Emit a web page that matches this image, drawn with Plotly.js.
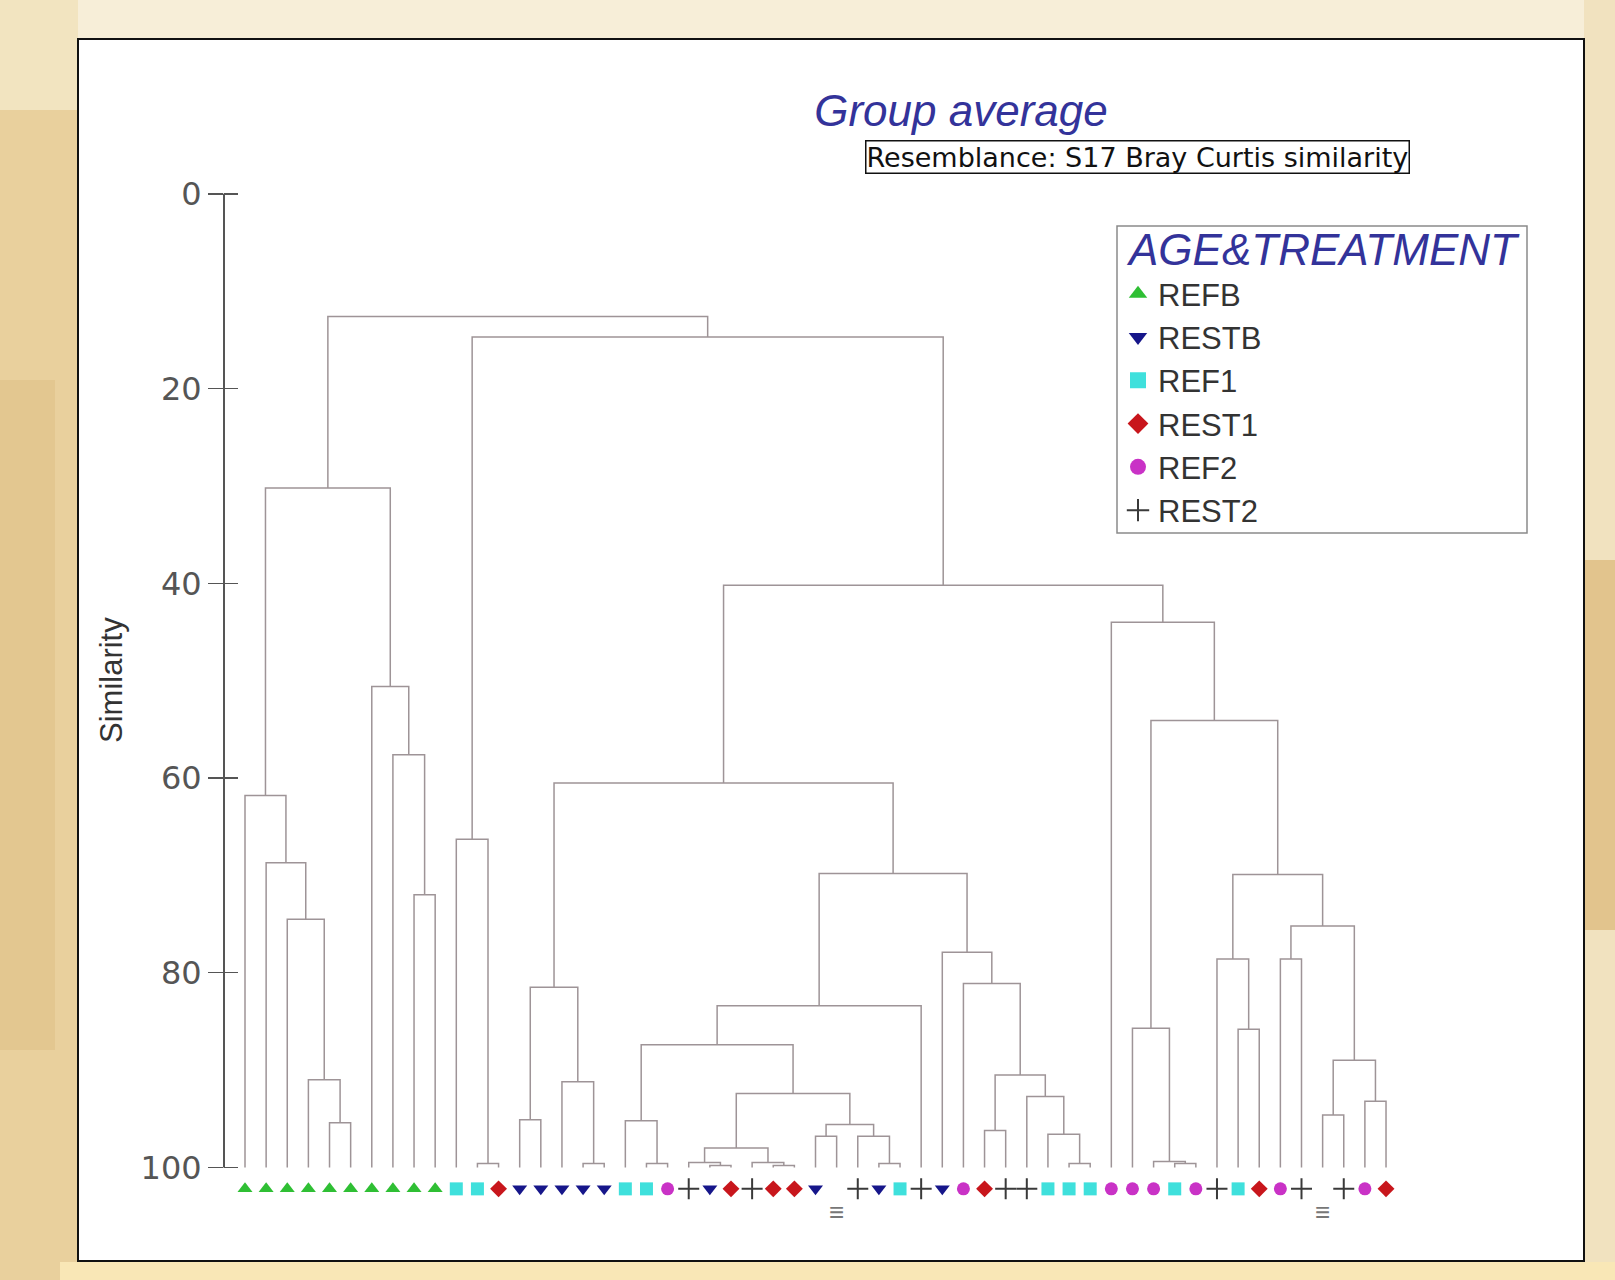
<!DOCTYPE html>
<html><head><meta charset="utf-8">
<script src="https://cdn.plot.ly/plotly-3.0.1.min.js"></script>
<style>html,body{margin:0;padding:0;background:#f6ecd3;}#chart{width:1615px;height:1280px;}</style>
</head><body><div id="chart"></div>
<script>
// ---------------- DATA ----------------
const groupNames = ['REFB', 'RESTB', 'REF1', 'REST1', 'REF2', 'REST2'];
// group of each leaf (left to right); null = leaf without a visible symbol
const leafGroup = [
  'REFB','REFB','REFB','REFB','REFB','REFB','REFB','REFB','REFB','REFB',
  'REF1','REF1','REST1',
  'RESTB','RESTB','RESTB','RESTB','RESTB',
  'REF1','REF1','REF2','REST2','RESTB','REST1','REST2','REST1','REST1','RESTB',null,
  'REST2','RESTB','REF1','REST2','RESTB','REF2','REST1','REST2','REST2',
  'REF1','REF1','REF1','REF2','REF2','REF2','REF1','REF2','REST2','REF1','REST1','REF2',
  'REST2',null,'REST2','REF2','REST1'
];
// small unreadable labels under the leaves without a symbol
const hiddenLeafIdx = [28, 51];
const hiddenLeafText = ['≡', '≡'];
// merges: ids < 55 are leaves, id 55+k is merge k
const mergeA = [4,3,2,1,0,8,7,6,59,11,10,13,16,15,66,19,18,22,21,25,24,73,27,30,29,77,76,71,82,35,39,38,37,84,34,33,83,69,44,43,42,47,46,49,51,53,99,98,97,95,41,92,65,63];
const mergeB = [5,55,56,57,58,9,60,61,62,12,64,14,17,67,68,20,70,23,72,26,74,75,28,31,78,79,80,81,32,36,40,85,86,87,88,89,90,91,45,93,94,48,96,50,52,54,100,101,102,103,104,105,106,107];
const mergeSim = [95.4,91.0,74.5,68.7,61.8,72.0,57.6,50.6,30.2,99.6,66.3,95.1,99.6,91.2,81.5,99.6,95.2,99.8,99.5,99.8,99.5,98.0,96.8,99.6,96.8,95.6,92.4,87.4,83.4,96.2,99.6,96.6,92.7,90.5,81.1,77.9,69.8,60.5,99.6,99.4,85.7,85.8,78.6,78.6,94.6,93.2,89.0,75.2,69.9,54.1,44.0,40.2,14.7,12.6];
const simTicks = [0, 20, 40, 60, 80, 100];
const chartTitle = 'Group average';
const resemblance = 'Resemblance: S17 Bray Curtis similarity';
const legendTitle = 'AGE&TREATMENT';
const axisTitle = 'Similarity';

// ---------------- STYLE ----------------
const groupStyle = {
  REFB:  {symbol:'triangle-up',   color:'#2fbf34'},
  RESTB: {symbol:'triangle-down', color:'#16168a'},
  REF1:  {symbol:'square',        color:'#3fe0dc'},
  REST1: {symbol:'diamond',       color:'#c8161c'},
  REF2:  {symbol:'circle',        color:'#c932c6'},
  REST2: {symbol:'cross-thin',    color:'#3a3a3a'}
};
const FONT = 'Liberation Sans, Arial, sans-serif';
const WIDE = 'DejaVu Sans, Verdana, sans-serif';
const W = 1615, H = 1280, ML = 224, MR = 115, MT = 189, MB = 59;
const PW = W - ML - MR, PH = H - MT - MB;
const px = x => (x - ML) / PW;
const py = y => 1 - (y - MT) / PH;
const Y_RANGE = [105.5, -0.5];
const LEAF_ROW = 102.2;
const LABEL_ROW = 104.6;
const nLeaves = leafGroup.length;

// ---------------- BUILD ----------------
const nodeX = [], nodeH = [];
for (let i = 0; i < nLeaves; i++) { nodeX.push(i); nodeH.push(100); }
const lx = [], ly = [];
for (let k = 0; k < mergeA.length; k++) {
  const a = mergeA[k], b = mergeB[k], h = mergeSim[k];
  lx.push(nodeX[a], nodeX[a], nodeX[b], nodeX[b], null);
  ly.push(nodeH[a], h, h, nodeH[b], null);
  nodeX.push((nodeX[a] + nodeX[b]) / 2);
  nodeH.push(h);
}
const traces = [{
  type:'scatter', mode:'lines', x:lx, y:ly, hoverinfo:'skip', showlegend:false,
  line:{color:'#9e9497', width:1.5}
}];
groupNames.forEach(g => {
  const xs = [], ys = [];
  leafGroup.forEach((lg, i) => { if (lg === g) { xs.push(i); ys.push(LEAF_ROW); } });
  const st = groupStyle[g];
  const isCross = st.symbol === 'cross-thin';
  traces.push({
    type:'scatter', mode:'markers', name:g, x:xs, y:ys, showlegend:false, hoverinfo:'skip',
    marker:{symbol:st.symbol, size:isCross ? 15 : 13, color:st.color, line:{color:st.color, width:isCross ? 2 : 0}}
  });
});
// legend entries
groupNames.forEach(g => {
  const st = groupStyle[g];
  const isCross = st.symbol === 'cross-thin';
  traces.push({
    type:'scatter', mode:'markers', name:g, x:[null], y:[null], hoverinfo:'skip',
    marker:{symbol:st.symbol, size:16, color:st.color, line:{color:st.color, width:isCross ? 2 : 0}}
  });
});
// carrier for inner tick marks
traces.push({type:'scatter', mode:'markers', x:[null], y:[null], yaxis:'y2', showlegend:false, hoverinfo:'skip'});

const rect = (x0, x1, y0, y1, fill, op) => ({type:'rect', xref:'paper', yref:'paper', x0:px(x0), x1:px(x1), y0:py(y1), y1:py(y0),
  fillcolor:fill, opacity:op === undefined ? 1 : op, line:{width:0}, layer:'below'});
const shapes = [
  // background texture strips
  rect(0, 78, 0, 1280, '#e9d09d'),
  rect(0, 78, 0, 110, '#f3e5c4', 0.9),
  rect(0, 55, 380, 1050, '#d9b87e', 0.4),
  rect(1584, 1615, 0, 1280, '#f1e2bf'),
  rect(1584, 1615, 560, 930, '#dcb97c', 0.75),
  rect(60, 1615, 1262, 1280, '#f9e7b6'),
  // white panel
  {type:'rect', xref:'paper', yref:'paper', x0:px(78), x1:px(1584), y0:py(1261), y1:py(39), fillcolor:'#ffffff', line:{color:'#111', width:2}, layer:'below'},
  // legend frame
  {type:'rect', xref:'paper', yref:'paper', x0:px(1117), x1:px(1527), y0:py(533), y1:py(226), fillcolor:'rgba(0,0,0,0)', line:{color:'#8a8a8a', width:1.5}},
  // similarity axis line
  {type:'line', xref:'paper', yref:'y', x0:0, x1:0, y0:simTicks[0], y1:simTicks[simTicks.length-1], line:{color:'#555', width:2}}
];

const annotations = [
  {text:resemblance, xref:'paper', yref:'paper', x:px(1137), y:py(156.5), xanchor:'center', yanchor:'middle', showarrow:false,
   font:{family:WIDE, size:27, color:'#111'}, bgcolor:'#ffffff', bordercolor:'#111', borderwidth:1.5, borderpad:0},
  {text:axisTitle, xref:'paper', yref:'paper', x:px(111), y:py(680), xanchor:'center', yanchor:'middle', showarrow:false, textangle:-90,
   font:{family:FONT, size:31, color:'#333'}},
  {text:legendTitle, xref:'paper', yref:'paper', x:px(1124), y:py(249), xanchor:'left', yanchor:'middle', showarrow:false,
   font:{family:FONT, size:44, color:'#33339a', style:'italic'}}
];
hiddenLeafIdx.forEach((li, j) => annotations.push({
  text:hiddenLeafText[j], xref:'x', yref:'y', x:li, y:LABEL_ROW, showarrow:false, xanchor:'center', yanchor:'middle',
  font:{family:FONT, size:26, color:'#777'}
}));

const layout = {
  width:W, height:H, margin:{l:ML, r:MR, t:MT, b:MB},
  paper_bgcolor:'#f7eed8', plot_bgcolor:'rgba(0,0,0,0)',
  font:{family:FONT, color:'#333'},
  title:{text:chartTitle, xref:'container', yref:'container', x:961/W, y:1 - 111/H, xanchor:'center', yanchor:'middle',
         font:{family:FONT, size:44, color:'#33339a', style:'italic'}},
  xaxis:{range:[(224-245)/21.13, (1500-245)/21.13], showgrid:false, zeroline:false, showline:false, showticklabels:false, ticks:''},
  yaxis:{range:Y_RANGE, autorange:false, tickvals:simTicks, ticktext:simTicks.map(String), ticks:'outside', ticklen:15, tickwidth:1.5, tickcolor:'#555',
         tickfont:{family:WIDE, size:32, color:'#555'}, showgrid:false, zeroline:false, showline:false},
  yaxis2:{overlaying:'y', anchor:'x', side:'left', range:Y_RANGE, autorange:false, tickvals:simTicks, ticks:'inside', ticklen:14, tickwidth:1.5, tickcolor:'#555',
          showticklabels:false, showgrid:false, zeroline:false, showline:false},
  showlegend:true,
  legend:{x:px(1118), y:py(267), xanchor:'left', yanchor:'top', bgcolor:'rgba(0,0,0,0)', borderwidth:0,
          font:{family:FONT, size:31, color:'#333'}, tracegroupgap:0},
  shapes:shapes,
  annotations:annotations
};
Plotly.newPlot('chart', traces, layout, {staticPlot:true, displayModeBar:false});
</script>
</body></html>
